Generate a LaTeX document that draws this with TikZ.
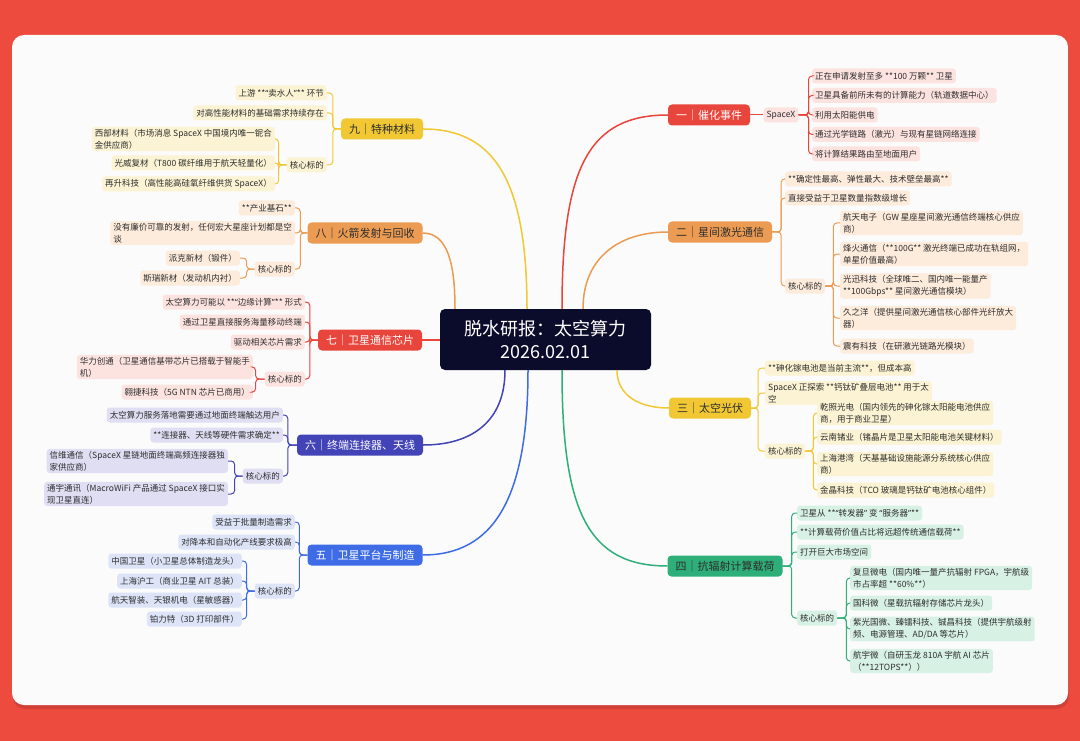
\documentclass[tikz,border=0pt]{standalone}
\usepackage{fontspec}
\setmainfont{Noto Sans CJK SC}
\newfontfamily\qfont{Noto Sans}
\newcommand\myql{{\qfont “}}
\newcommand\myqr{{\qfont ”}}
\usetikzlibrary{calc}
\definecolor{bgred}{HTML}{EE4B3F}
\definecolor{canvas}{HTML}{FBFBFB}
\definecolor{navy}{HTML}{0B0B2B}
\definecolor{cred}{HTML}{E8453C}
\definecolor{lred}{HTML}{FCE3E0}
\definecolor{corange}{HTML}{EC9B52}
\definecolor{lorange}{HTML}{FDEBDC}
\definecolor{cyellow}{HTML}{F1C833}
\definecolor{lyellow}{HTML}{FBF3D3}
\definecolor{cgreen}{HTML}{2EAF79}
\definecolor{lgreen}{HTML}{D8F1E5}
\definecolor{cblue}{HTML}{3D6CE6}
\definecolor{lblue}{HTML}{DDE4F8}
\definecolor{cindigo}{HTML}{4343B8}
\definecolor{lindigo}{HTML}{DFDEF3}
\definecolor{ink}{HTML}{2E2E2E}
\begin{document}
\begin{tikzpicture}[x=1pt,y=-1pt,
  branch/.style={rounded corners=4pt, minimum height=21pt, inner xsep=8pt, inner ysep=0pt, font=\fontsize{11}{13}\selectfont},
  leaf/.style={rounded corners=3pt, inner xsep=3pt, inner ysep=2pt, minimum height=15pt, align=left, font=\fontsize{8.5}{12}\selectfont, text=ink},
  rl/.style={leaf, anchor=west},
  ll/.style={leaf, anchor=east},
  mainline/.style={line width=1.5pt},
  brk/.style={line width=1pt, rounded corners=3.5pt}
]
\useasboundingbox (0,0) rectangle (1080,741);
\fill[bgred] (0,0) rectangle (1080,741);
\fill[black, opacity=0.12, rounded corners=12pt] (13,38) rectangle (1069,709);
\fill[canvas, rounded corners=12pt] (12,35) rectangle (1068,705);

% center
\node[fill=navy, text=white, rounded corners=5pt, minimum width=211pt, minimum height=61pt, align=center, font=\fontsize{18}{23}\selectfont] (cen) at (545.5,339.5) {脱水研报：太空算力\\2026.02.01};

% ---------- branch 1
\node[branch, fill=cred, text=white] (b1) at (709,115) {一｜催化事件};
\node[leaf, fill=lred] (sx) at (781,115) {SpaceX};
\node[rl, fill=lred] (a1) at (812,76) {正在申请发射至多 **100 万颗** 卫星};
\node[rl, fill=lred] (a2) at (812,95.5) {卫星具备前所未有的计算能力（轨道数据中心）};
\node[rl, fill=lred] (a3) at (812,115) {利用太阳能供电};
\node[rl, fill=lred] (a4) at (812,134.5) {通过光学链路（激光）与现有星链网络连接};
\node[rl, fill=lred] (a5) at (812,154) {将计算结果路由至地面用户};
\draw[brk, draw=cred] (b1.east) -- (sx.west);
\foreach \c in {a1,a2,a3,a4,a5} \draw[brk, draw=cred] (sx.east) -- ++(10,0) |- (\c.west);

% ---------- branch 2
\node[branch, fill=corange, text=ink] (b2) at (720,232) {二｜星间激光通信};
\node[rl, fill=lorange] (c1) at (785,179) {**确定性最高、弹性最大、技术壁垒最高**};
\node[rl, fill=lorange] (c2) at (785,198) {直接受益于卫星数量指数级增长};
\node[rl, fill=lorange] (c3) at (785,286) {核心标的};
\node[rl, fill=lorange] (d1) at (840,223) {航天电子（GW 星座星间激光通信终端核心供应\\商）};
\node[rl, fill=lorange] (d2) at (840,254) {烽火通信（**100G** 激光终端已成功在轨组网，\\单星价值最高）};
\node[rl, fill=lorange] (d3) at (840,286) {光迅科技（全球唯二、国内唯一能量产\\**100Gbps** 星间激光通信模块）};
\node[rl, fill=lorange] (d4) at (840,318) {久之洋（提供星间激光通信核心部件光纤放大\\器）};
\node[rl, fill=lorange] (d5) at (840,346) {震有科技（在研激光链路光模块）};
\foreach \c in {c1,c2,c3} \draw[brk, draw=corange] (b2.east) -- ++(9,0) |- (\c.west);
\foreach \c in {d1,d2,d3,d4,d5} \draw[brk, draw=corange] (c3.east) -- ++(8,0) |- (\c.west);

% ---------- branch 3
\node[branch, fill=cyellow, text=ink] (b3) at (710,408) {三｜太空光伏};
\node[rl, fill=lyellow] (e1) at (765,368) {**砷化镓电池是当前主流**，但成本高};
\node[rl, fill=lyellow] (e2) at (765,393) {SpaceX 正探索 **钙钛矿叠层电池** 用于太\\空};
\node[rl, fill=lyellow] (e3) at (765,451) {核心标的};
\node[rl, fill=lyellow] (f1) at (817,413) {乾照光电（国内领先的砷化镓太阳能电池供应\\商，用于商业卫星）};
\node[rl, fill=lyellow] (f2) at (817,437) {云南锗业（锗晶片是卫星太阳能电池关键材料）};
\node[rl, fill=lyellow] (f3) at (817,464) {上海港湾（天基基础设施能源分系统核心供应\\商）};
\node[rl, fill=lyellow] (f4) at (817,490) {金晶科技（TCO 玻璃是钙钛矿电池核心组件）};
\foreach \c in {e1,e2,e3} \draw[brk, draw=cyellow] (b3.east) -- ++(7,0) |- (\c.west);
\foreach \c in {f1,f2,f3,f4} \draw[brk, draw=cyellow] (e3.east) -- ++(8,0) |- (\c.west);

% ---------- branch 4
\node[branch, fill=cgreen, text=ink] (b4) at (725,566) {四｜抗辐射计算载荷};
\node[rl, fill=lgreen] (g1) at (797,513) {卫星从 **\myql 转发器\myqr{} 变 \myql 服务器\myqr**};
\node[rl, fill=lgreen] (g2) at (797,532) {**计算载荷价值占比将远超传统通信载荷**};
\node[rl, fill=lgreen] (g3) at (797,552) {打开巨大市场空间};
\node[rl, fill=lgreen] (g4) at (797,618) {核心标的};
\node[rl, fill=lgreen] (h1) at (850,578) {复旦微电（国内唯一量产抗辐射 FPGA，宇航级\\市占率超 **60\%**）};
\node[rl, fill=lgreen] (h2) at (850,603) {国科微（星载抗辐射存储芯片龙头）};
\node[rl, fill=lgreen] (h3) at (850,629) {紫光国微、臻镭科技、铖昌科技（提供宇航级射\\频、电源管理、AD/DA 等芯片）};
\node[rl, fill=lgreen] (h4) at (850,661) {航宇微（自研玉龙 810A 宇航 AI 芯片\\（**12TOPS**））};
\foreach \c in {g1,g2,g3,g4} \draw[brk, draw=cgreen] (b4.east) -- ++(9,0) |- (\c.west);
\foreach \c in {h1,h2,h3,h4} \draw[brk, draw=cgreen] (g4.east) -- ++(9,0) |- (\c.west);

% ---------- branch 9
\node[branch, fill=cyellow, text=ink] (b9) at (382,129) {九｜特种材料};
\node[ll, fill=lyellow] (i1) at (327,93) {上游 **\myql 卖水人\myqr** 环节};
\node[ll, fill=lyellow] (i2) at (327,113) {对高性能材料的基础需求持续存在};
\node[ll, fill=lyellow] (i3) at (327,165) {核心标的};
\node[ll, fill=lyellow] (j1) at (275,139) {西部材料（市场消息 SpaceX 中国境内唯一铌合\\金供应商）};
\node[ll, fill=lyellow] (j2) at (275,163) {光威复材（T800 碳纤维用于航天轻量化）};
\node[ll, fill=lyellow] (j3) at (275,184) {再升科技（高性能高硅氧纤维供货 SpaceX）};
\foreach \c in {i1,i2,i3} \draw[brk, draw=cyellow] (b9.west) -- ++(-8,0) |- (\c.east);
\foreach \c in {j1,j2,j3} \draw[brk, draw=cyellow] (i3.west) -- ++(-8,0) |- (\c.east);

% ---------- branch 8
\node[branch, fill=corange, text=ink] (b8) at (365,233) {八｜火箭发射与回收};
\node[ll, fill=lorange] (k1) at (295,208) {**产业基石**};
\node[ll, fill=lorange] (k2) at (295,233) {没有廉价可靠的发射，任何宏大星座计划都是空\\谈};
\node[ll, fill=lorange] (k3) at (295,269) {核心标的};
\node[ll, fill=lorange] (l1) at (240,258) {派克新材（锻件）};
\node[ll, fill=lorange] (l2) at (240,278) {斯瑞新材（发动机内衬）};
\foreach \c in {k1,k2,k3} \draw[brk, draw=corange] (b8.west) -- ++(-7,0) |- (\c.east);
\foreach \c in {l1,l2} \draw[brk, draw=corange] (k3.west) -- ++(-8,0) |- (\c.east);

% ---------- branch 7
\node[branch, fill=cred, text=white] (b7) at (370,340) {七｜卫星通信芯片};
\node[ll, fill=lred] (m1) at (305,302) {太空算力可能以 **\myql 边缘计算\myqr** 形式};
\node[ll, fill=lred] (m2) at (305,322) {通过卫星直接服务海量移动终端};
\node[ll, fill=lred] (m3) at (305,342) {驱动相关芯片需求};
\node[ll, fill=lred] (m4) at (305,379) {核心标的};
\node[ll, fill=lred] (n1) at (253,367) {华力创通（卫星通信基带芯片已搭载于智能手\\机）};
\node[ll, fill=lred] (n2) at (253,392) {翱捷科技（5G NTN 芯片已商用）};
\foreach \c in {m1,m2,m3,m4} \draw[brk, draw=cred] (b7.west) -- ++(-8,0) |- (\c.east);
\foreach \c in {n1,n2} \draw[brk, draw=cred] (m4.west) -- ++(-9,0) |- (\c.east);

% ---------- branch 6
\node[branch, fill=cindigo, text=white] (b6) at (360,445) {六｜终端连接器、天线};
\node[ll, fill=lindigo] (o1) at (283,415) {太空算力服务落地需要通过地面终端触达用户};
\node[ll, fill=lindigo] (o2) at (283,435) {**连接器、天线等硬件需求确定**};
\node[ll, fill=lindigo] (o3) at (283,476) {核心标的};
\node[ll, fill=lindigo] (p1) at (228,461) {信维通信（SpaceX 星链地面终端高频连接器独\\家供应商）};
\node[ll, fill=lindigo] (p2) at (228,494) {通宇通讯（MacroWiFi 产品通过 SpaceX 接口实\\现卫星直连）};
\foreach \c in {o1,o2,o3} \draw[brk, draw=cindigo] (b6.west) -- ++(-9,0) |- (\c.east);
\foreach \c in {p1,p2} \draw[brk, draw=cindigo] (o3.west) -- ++(-8,0) |- (\c.east);

% ---------- branch 5
\node[branch, fill=cblue, text=white] (b5) at (365,555) {五｜卫星平台与制造};
\node[ll, fill=lblue] (q1) at (295,522) {受益于批量制造需求};
\node[ll, fill=lblue] (q2) at (295,542) {对降本和自动化产线要求极高};
\node[ll, fill=lblue] (q3) at (295,591) {核心标的};
\node[ll, fill=lblue] (r1) at (242,561) {中国卫星（小卫星总体制造龙头）};
\node[ll, fill=lblue] (r2) at (242,581) {上海沪工（商业卫星 AIT 总装）};
\node[ll, fill=lblue] (r3) at (242,600) {航天智装、天银机电（星敏感器）};
\node[ll, fill=lblue] (r4) at (242,619) {铂力特（3D 打印部件）};
\foreach \c in {q1,q2,q3} \draw[brk, draw=cblue] (b5.west) -- ++(-8,0) |- (\c.east);
\foreach \c in {r1,r2,r3,r4} \draw[brk, draw=cblue] (q3.west) -- ++(-8,0) |- (\c.east);

% ---------- main connectors
\draw[mainline, draw=cred] ([xshift=16.5pt]cen.north) .. controls +(0,-140) and +(-80,0) .. (b1.west);
\draw[mainline, draw=corange] ([xshift=37.5pt]cen.north) .. controls +(0,-50) and +(-50,0) .. (b2.west);
\draw[mainline, draw=cyellow] ([xshift=71.5pt]cen.south) .. controls +(0,25) and +(-30,0) .. (b3.west);
\draw[mainline, draw=cgreen] ([xshift=16.5pt]cen.south) .. controls +(0,140) and +(-80,0) .. (b4.west);
\draw[mainline, draw=cblue] ([xshift=-17.5pt]cen.south) .. controls +(0,130) and +(70,0) .. (b5.east);
\draw[mainline, draw=cindigo] ([xshift=-40.5pt]cen.south) .. controls +(0,50) and +(50,0) .. (b6.east);
\draw[mainline, draw=cred] (cen.west |- b7.east) -- (b7.east);
\draw[mainline, draw=corange] ([xshift=-90.5pt]cen.north) .. controls +(0,-45) and +(25,0) .. (b8.east);
\draw[mainline, draw=cyellow] ([xshift=-18.5pt]cen.north) .. controls +(0,-130) and +(70,0) .. (b9.east);
\end{tikzpicture}
\end{document}
